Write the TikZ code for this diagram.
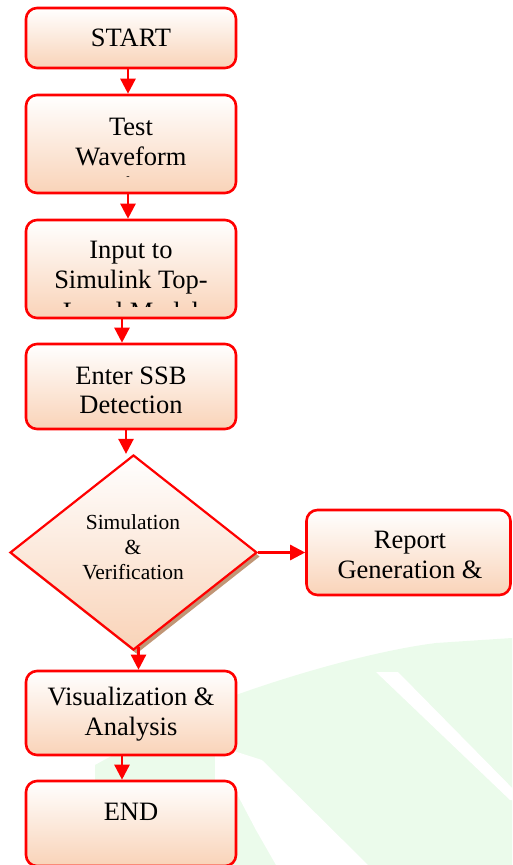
\documentclass[tikz,border=0pt]{standalone}
\usepackage{fontspec}
\setmainfont{Liberation Serif}
\usetikzlibrary{shapes.geometric,shadows,arrows.meta,calc}
\definecolor{peach}{RGB}{249,211,184}
\definecolor{wmgreen}{RGB}{235,251,235}
\definecolor{shadowbrown}{RGB}{192,150,118}
\begin{document}
\begin{tikzpicture}[x=1pt,y=-1pt,
  box/.style={draw=red, line width=2.6pt, rounded corners=11pt, top color=white, bottom color=peach, minimum width=210pt, inner sep=0pt},
  txt/.style={font=\fontsize{26.5}{29.5}\selectfont, align=center, inner sep=0pt, text=black},
  dtxt/.style={font=\fontsize{21.5}{25}\selectfont, align=center, inner sep=0pt, text=black},
  arr/.style={draw=red, line width=2.5pt, -{Triangle[length=15pt,width=15pt]}}]
\useasboundingbox (0,0) rectangle (512,865);
% faint watermark
\fill[wmgreen] (95,785) -- (95,765) .. controls (150,735) and (200,708) .. (236,695) .. controls (300,672) and (380,650) .. (436,643) -- (512,638) -- (512,865) -- (95,865) -- cycle;
\fill[white] (376,672) -- (398,672) -- (524,800) -- (510,800) -- cycle;
\fill[white] (215,745) -- (262,760) -- (368,865) -- (276,865) -- (256,830) -- (236,792) -- (215,782) -- cycle;
% boxes
\node[box, minimum height=60pt] (start) at (131,38) {};
\node[txt] (tstart) at (131,38) {START};
\node[box, minimum height=98pt] (wave) at (131,144) {};
\node[txt] (twave) at (131,142) {Test\\Waveform};
\node[inner sep=0pt, font=\fontsize{10}{10}\selectfont] (twdash) at (128,178) {-};
\node[box, minimum height=98pt] (sim) at (131,269) {};
\node[txt] (tsim) at (131,267.5) {Input to\\Simulink Top-};
\begin{scope}
\clip (30,292) rectangle (232,306.5);
\node[txt, anchor=base] (tsim3) at (131,320) {Level Model};
\end{scope}
\node[box, minimum height=85pt] (ssb) at (131,386.5) {};
\node[txt] (tssb) at (131,390.5) {Enter SSB\\Detection};
\node[diamond, draw=red, line width=2.2pt, top color=white, bottom color=peach, minimum width=247pt, minimum height=195pt, inner sep=0pt,
  drop shadow={shadow xshift=3pt, shadow yshift=-4pt, fill=shadowbrown, opacity=1}] (dia) at (133.5,552.5) {};
\node[dtxt] (tdia) at (133,547) {Simulation\\\&\\Verification};
\node[box, minimum width=204pt, minimum height=85pt] (rep) at (408.5,552.5) {};
\node[txt] (trep) at (410,555) {Report\\Generation \&};
\node[box, minimum height=84pt] (vis) at (131,713) {};
\node[txt] (tvis) at (131,714) {Visualization \&\\Analysis};
\node[box, minimum height=85pt] (end) at (131,823.5) {};
\node[txt] (tend) at (131,812) {END};
% connectors
\draw[arr] ([xshift=-3pt]start.south) -- ([xshift=-3pt]wave.north);
\draw[arr] ([xshift=-3pt]wave.south) -- ([xshift=-3pt]sim.north);
\draw[arr] ([xshift=-9pt]sim.south) -- ([xshift=-9pt]ssb.north);
\coordinate (c1) at ([xshift=-5pt]ssb.south);
\draw[arr] (c1) -- (c1 |- dia.north);
\draw[arr] (dia.east) -- (rep.west);
\coordinate (c2) at ([xshift=5pt,yshift=4pt]dia.south);
\draw[arr] (c2) -- (c2 |- vis.north);
\draw[arr] ([xshift=-9pt]vis.south) -- ([xshift=-9pt]end.north);
\end{tikzpicture}
\end{document}
